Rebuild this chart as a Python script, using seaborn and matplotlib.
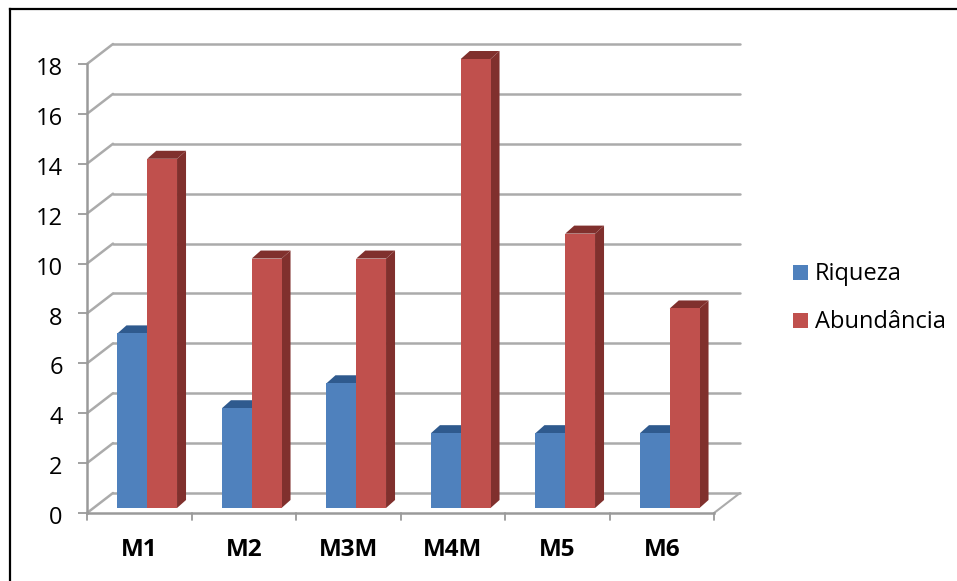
import matplotlib
matplotlib.use("Agg")
import matplotlib.pyplot as plt
from matplotlib.colors import to_hex
from matplotlib.lines import Line2D
from matplotlib.patches import Polygon, Rectangle
from matplotlib.transforms import Affine2D, ScaledTranslation
import pandas as pd
import seaborn as sns

categories = ["M1", "M2", "M3M", "M4M", "M5", "M6"]
riqueza = [7, 4, 5, 3, 3, 3]
abundancia = [14, 10, 10, 18, 11, 8]
y_ticks = list(range(0, 20, 2))

W, H = 957, 581
BLUE, RED = "#4F81BD", "#C0504D"
BLUE_SIDE, RED_SIDE = "#2F5A8E", "#80302D"
GRID = "#ABABAB"
AXIS = "#9A9A9A"
FONT = "Open Sans"
TEXT_SIZE = 17

sns.set_theme(style="white")
plt.rcParams["font.family"] = [FONT, "DejaVu Sans"]

fig = plt.figure(figsize=(W / 100, H / 100), dpi=100)
fig.patch.set_facecolor("white")
ax = fig.add_axes([87 / W, 1 - 513 / H, (714 - 87) / W, (513 - 64) / H])

table = pd.DataFrame({
    "amostra": categories * 2,
    "serie": ["Riqueza"] * len(categories) + ["Abundância"] * len(categories),
    "valor": riqueza + abundancia,
})
sns.barplot(data=table, x="amostra", y="valor", hue="serie",
            palette={"Riqueza": BLUE, "Abundância": RED},
            width=0.57, gap=0, saturation=1, errorbar=None, legend=False,
            linewidth=0, edgecolor="none", ax=ax)
ax.set_xlim(-0.5, len(categories) - 0.5)
ax.set_ylim(0, 18)
ax.patch.set_alpha(0)

# Pixel offsets that give the flat axes their receding look
WALL_DX, WALL_DY = 26, 20
BAR_DX, BAR_DY = 8, 5
BAR_DEPTH_DX, BAR_DEPTH_DY = 9, 8


def shifted(dx, dy):
    return ax.transData + Affine2D().translate(dx, dy)


wall = shifted(WALL_DX, WALL_DY)
bar_base = shifted(BAR_DX, BAR_DY)
bar_back = shifted(BAR_DX + BAR_DEPTH_DX, BAR_DY + BAR_DEPTH_DY)
x0, x1 = ax.get_xlim()

# Back wall grid and the slanted segments joining it to the front axis
for tick in y_ticks:
    ax.add_line(Line2D([x0, x1], [tick, tick], transform=wall, color=GRID,
                       lw=1.8, clip_on=False, zorder=1))
    start = ax.transData.transform((x0, tick))
    ax.add_line(Line2D([start[0], start[0] + WALL_DX], [start[1], start[1] + WALL_DY],
                       transform=None, color=GRID, lw=1.8, clip_on=False, zorder=1))
corner = ax.transData.transform((x1, 0))
ax.add_line(Line2D([corner[0], corner[0] + WALL_DX], [corner[1], corner[1] + WALL_DY],
                   transform=None, color=GRID, lw=1.5, clip_on=False, zorder=1))

# Front, side and top faces of each column, all derived from the seaborn bars
for bar in list(ax.patches):
    left, right = bar.get_x(), bar.get_x() + bar.get_width()
    height = bar.get_height()
    side_colour = BLUE_SIDE if to_hex(bar.get_facecolor()).upper() == BLUE else RED_SIDE
    bar.set_transform(bar_base)
    bar.set_clip_on(False)
    bar.set_zorder(4)
    corners = [(right, 0), (right, height), (left, height)]
    pts_front = [bar_base.transform(p) for p in corners]
    pts_back = [bar_back.transform(p) for p in corners]
    ax.add_patch(Polygon([pts_front[0], pts_back[0], pts_back[1], pts_front[1]], closed=True,
                         transform=None, facecolor=side_colour, edgecolor="none",
                         clip_on=False, zorder=3))
    ax.add_patch(Polygon([pts_front[2], pts_front[1], pts_back[1], pts_back[2]], closed=True,
                         transform=None, facecolor=side_colour, edgecolor="none",
                         clip_on=False, zorder=3))

# Front axes
sns.despine(ax=ax, top=True, right=True)
for name in ("left", "bottom"):
    ax.spines[name].set_color(AXIS)
    ax.spines[name].set_linewidth(1.8)
    ax.spines[name].set_zorder(2)

ax.set_xlabel("")
ax.set_ylabel("")
ax.set_yticks(y_ticks)
ax.set_yticklabels([str(t) for t in y_ticks], fontsize=TEXT_SIZE, color="black")
ax.set_xticks(range(len(categories)))
ax.set_xticklabels(categories, fontsize=TEXT_SIZE + 0.5, fontweight="bold", color="black")
ax.tick_params(axis="y", length=6.5, width=1.3, color=AXIS, left=True, pad=11)
ax.tick_params(axis="x", length=0, pad=18)
for label in ax.get_yticklabels():
    label.set_transform(label.get_transform() + ScaledTranslation(0, -1.5 / 72, fig.dpi_scale_trans))
for boundary in range(len(categories) + 1):
    ax.add_line(Line2D([boundary - 0.5] * 2, [0, -0.3], color=AXIS, lw=1.3,
                       clip_on=False, zorder=2))

# Legend
for y_px, text_y, colour, label in [(272, 274, BLUE, "Riqueza"), (320, 322, RED, "Abundância")]:
    fig.add_artist(Rectangle((793 / W, 1 - (y_px + 8) / H), 15 / W, 15 / H,
                             transform=fig.transFigure, facecolor=colour, edgecolor="none"))
    fig.text(815 / W, 1 - text_y / H, label, fontsize=TEXT_SIZE, color="black",
             ha="left", va="center")

# Chart frame: only its top and left edges fall inside the canvas
fig.add_artist(Line2D([9.5 / W, 9.5 / W], [0, 1 - 9 / H], transform=fig.transFigure,
                      color="black", lw=1.6, solid_capstyle="projecting"))
fig.add_artist(Line2D([9.5 / W, 1], [1 - 9 / H, 1 - 9 / H], transform=fig.transFigure,
                      color="black", lw=1.6, solid_capstyle="projecting"))

fig.savefig("out.png", dpi=100)
